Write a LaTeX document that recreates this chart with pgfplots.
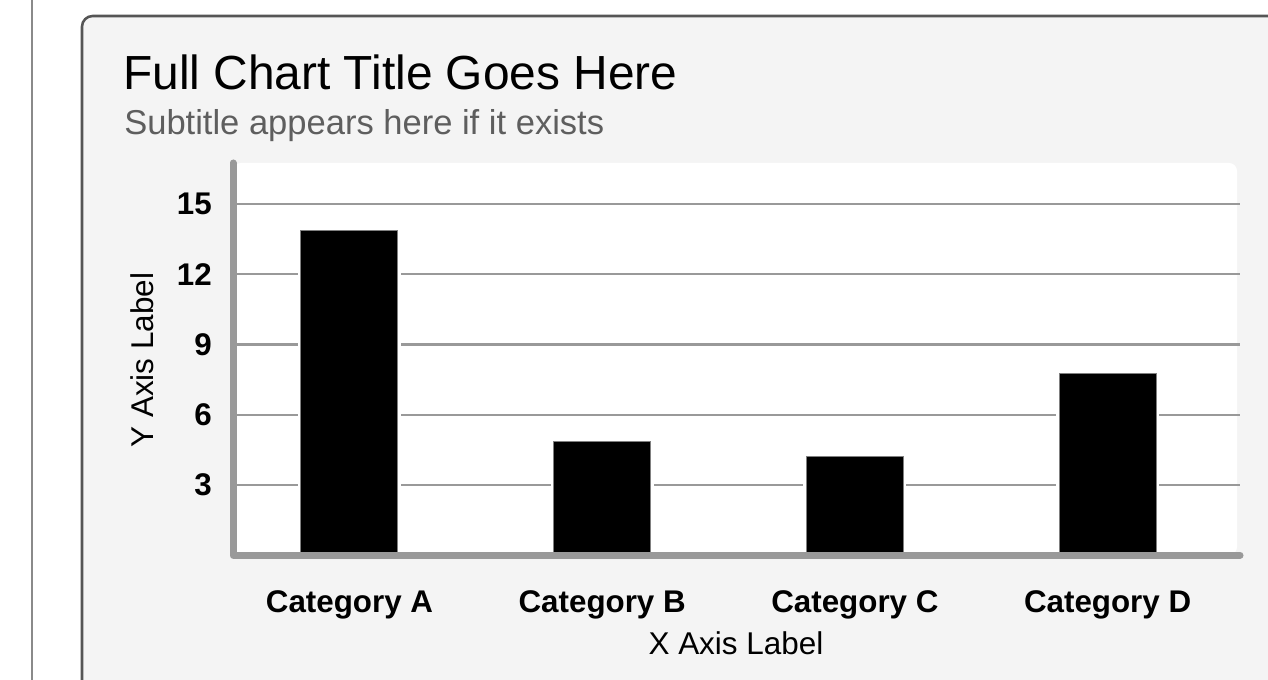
\documentclass[border=0pt]{standalone}
\usepackage{fontspec}
\setmainfont{Liberation Sans}
\usepackage{pgfplots}
\pgfplotsset{compat=1.18}
\usepackage{xcolor}
\definecolor{panelbg}{HTML}{F4F4F4}
\definecolor{paneledge}{HTML}{555555}
\definecolor{sideline}{HTML}{8A8A8A}
\definecolor{gridgray}{HTML}{999999}
\definecolor{subgray}{HTML}{5E5E5E}

\begin{document}
% 1 unit = 1 px of the 1268x680 reference, y measured from the bottom
\begin{tikzpicture}[x=0.75pt, y=0.75pt]
\useasboundingbox (0,0) rectangle (1268,680);
\fill[white] (0,0) rectangle (1268,680);
\draw[sideline, line width=1.9pt] (32,-10) -- (32,690);
\draw[paneledge, fill=panelbg, line width=1.9pt, rounded corners=8pt] (82,-40) rectangle (1320,664);

\node[anchor=base west, inner sep=0pt] at (123,590)
  {\fontsize{35.9}{42}\selectfont Full Chart Title Goes Here};
\node[anchor=base west, inner sep=0pt, text=subgray] at (124,545)
  {\fontsize{25.9}{30}\selectfont Subtitle appears here if it exists};

% white plot area
\fill[white, rounded corners=6pt] (233,125) rectangle (1237,517);

\begin{axis}[
    at={(174.75pt,93.56pt)}, anchor=south west,
    scale only axis,
    width=755.25pt, height=294.2pt,
    xmin=-0.461, xmax=3.524,
    ymin=0, ymax=16.75,
    clip=false,
    axis line style={draw=none},
    major tick length=0pt,
    xtick=data,
    xticklabels={Category A, Category B, Category C, Category D},
    ytick={3,6,9,12,15},
    ymajorgrids,
    major grid style={gridgray, line width=1.6pt},
    /pgf/number format/assume math mode=true,
    xticklabel style={font=\bfseries\fontsize{23.5}{28}\selectfont, anchor=base, inner sep=0pt, yshift=-43.3pt},
    yticklabel style={font=\bfseries\fontsize{23.5}{28}\selectfont, anchor=east, inner sep=0pt, xshift=-15.75pt},
    ybar, bar width=72.75pt, bar shift=0pt,
]
\addplot[fill=black, draw=gray, line width=0.75pt,
         preaction={draw=white, line width=4.5pt}]
  coordinates {(0,13.85) (1,4.85) (2,4.23) (3,7.77)};
\draw[gridgray, line width=5.25pt, line cap=round, line join=round]
  (rel axis cs:0,1) -- (rel axis cs:0,0) -- (rel axis cs:1,0);
\end{axis}

\node[anchor=base, inner sep=0pt] at (736,25)
  {\fontsize{23.6}{28}\selectfont X Axis Label};
\node[anchor=base, inner sep=0pt, rotate=90] at (153,320)
  {\fontsize{23.6}{28}\selectfont Y Axis Label};
\end{tikzpicture}
\end{document}
